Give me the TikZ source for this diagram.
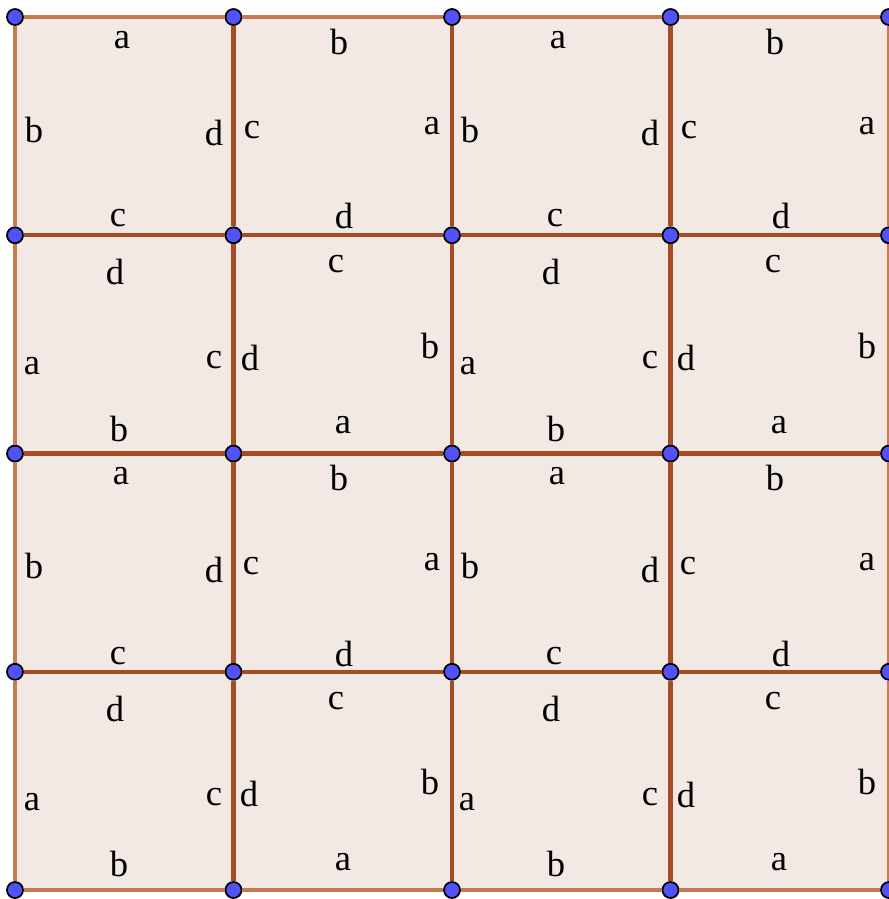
\documentclass[tikz,border=0pt]{standalone}
\usepackage{fontspec}
\setmainfont{Liberation Serif}
\definecolor{cellfill}{RGB}{243,233,228}
\definecolor{outeredge}{RGB}{200,122,82}
\definecolor{inneredge}{RGB}{166,76,34}
\definecolor{dotblue}{RGB}{82,82,250}
\tikzset{
  pt/.style={circle,fill=dotblue,draw=black,line width=0.5pt,minimum size=0.16cm,inner sep=0pt},
  outer/.style={draw=outeredge,line width=0.95pt},
  inner/.style={draw=inneredge,line width=1.15pt},
  lab/.style={inner sep=0pt,font=\fontsize{10.4}{12}\selectfont}
}
\begin{document}
\begin{tikzpicture}[x=0.01cm,y=-0.01cm]
\useasboundingbox (0,0) rectangle (889,899);
\clip (0,0) rectangle (889,899);
\fill[cellfill] (15,17) rectangle (889,890);
% grid points
\foreach \i in {0,...,4}{
  \foreach \j in {0,...,4}{
    \node[pt] (p\i\j) at ({15+218.5*\j},{17+218.25*\i}) {};
  }
}
% horizontal edges
\foreach \i in {0,...,4}{
  \foreach \j [evaluate=\j as \jn using int(\j+1)] in {0,...,3}{
    \ifnum\i=0 \path[outer] (p\i\j) -- (p\i\jn);
    \else\ifnum\i=4 \path[outer] (p\i\j) -- (p\i\jn);
    \else \path[inner] (p\i\j) -- (p\i\jn);
    \fi\fi
  }
}
% vertical edges
\foreach \j in {0,...,4}{
  \foreach \i [evaluate=\i as \in using int(\i+1)] in {0,...,3}{
    \ifnum\j=0 \path[outer] (p\i\j) -- (p\in\j);
    \else\ifnum\j=4 \path[outer] (p\i\j) -- (p\in\j);
    \else \path[inner] (p\i\j) -- (p\in\j);
    \fi\fi
  }
}
% labels
\foreach \x/\y/\t [count=\k] in {
 122/40/a, 34/130/b, 214/133/d, 118/218/c,
 339/42/b, 252/130/c, 432/126/a, 344/216/d,
 558/40/a, 470/130/b, 650/133/d, 555/218/c,
 775/42/b, 689/130/c, 867/126/a, 781/216/d,
 115/272/d, 32/366/a, 214/360/c, 119/429/b,
 336/264/c, 250/358/d, 430/346/b, 343/425/a,
 551/272/d, 468/366/a, 650/360/c, 556/429/b,
 773/264/c, 686/358/d, 867/346/b, 779/425/a,
 121/476/a, 34/566/b, 214/570/d, 118/656/c,
 339/478/b, 251/566/c, 432/562/a, 344/654/d,
 557/476/a, 470/566/b, 650/570/d, 554/656/c,
 775/478/b, 688/566/c, 867/562/a, 781/654/d,
 115/709/d, 32/802/a, 214/797/c, 119/864/b,
 336/701/c, 249/794/d, 430/782/b, 343/862/a,
 551/709/d, 467/802/a, 650/797/c, 556/864/b,
 773/701/c, 686/795/d, 867/782/b, 779/862/a}
 \node[lab] (L\k) at (\x,\y) {\t};
\end{tikzpicture}
\end{document}
